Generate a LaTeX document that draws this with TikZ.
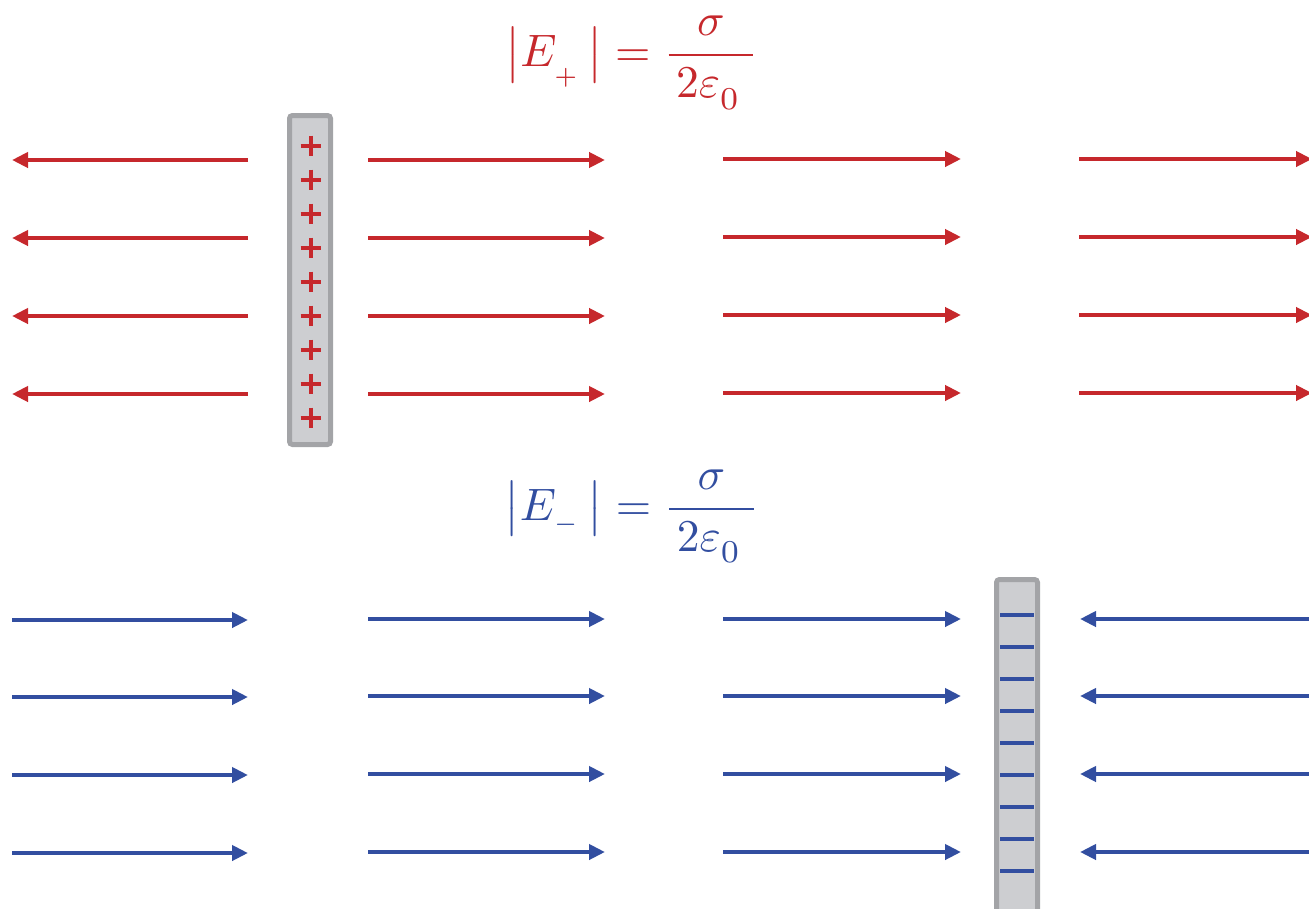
\documentclass[tikz,border=0pt]{standalone}
\usepackage{graphicx}
\usetikzlibrary{arrows.meta}
\definecolor{ered}{RGB}{198,40,44}
\definecolor{eblue}{RGB}{50,78,160}
\definecolor{plategray}{RGB}{205,206,209}
\definecolor{plateedge}{RGB}{163,164,167}
\newcommand{\fieldeq}[2]{$\displaystyle
  \bigl| E_{\raisebox{#2}{$\scriptscriptstyle #1$}}\,\bigr|
  = \frac{\sigma}{\,2\varepsilon_{\raisebox{-1pt}{$\scriptstyle 0$}}\;}$}
\begin{document}
\begin{tikzpicture}[x=1pt,y=-1pt,
  fieldline/.style={line width=4.5pt, -{Triangle[length=16pt,width=15pt]}},
  plate/.style={draw=plateedge, fill=plategray, line width=5pt, rounded corners=3pt, inner sep=0pt},
  pcharge/.style={line width=4pt},
  ncharge/.style={line width=3.5pt},
  formula/.style={scale=4.55, inner sep=0pt, transform shape, anchor=base}]
\useasboundingbox (0,0) rectangle (1309,908);
% positive plate
\node[plate, minimum width=41pt, minimum height=329pt] (pplate) at (310,280) {};
\foreach \k in {0,...,8} {
  \draw[pcharge, ered] (300.5,145.5+34*\k) -- (320.5,145.5+34*\k);
  \draw[pcharge, ered] (310.5,135.5+34*\k) -- (310.5,155.5+34*\k);
}
% negative plate
\begin{scope}
\clip (0,0) rectangle (1309,908);
\node[plate, minimum width=41pt, minimum height=360pt] (nplate) at (1017,759.5) {};
\end{scope}
\foreach \k in {0,...,8} {
  \draw[ncharge, eblue] (1000,615+32*\k) -- (1034,615+32*\k);
}
% formulas
\node[formula, text=ered] (eplus) at (632,66.5) {\fieldeq{+}{-2.2pt}};
\node[formula, text=eblue] (eminus) at (632,520) {\fieldeq{-}{-0.8pt}};
% red field lines
\foreach \y [count=\i] in {160,238,316,394} {
  \coordinate (ra\i) at (248,\y); \coordinate (rb\i) at (12,\y);
  \draw[fieldline, ered] (ra\i) -- (rb\i);
  \coordinate (rc\i) at (368,\y); \coordinate (rd\i) at (605,\y);
  \draw[fieldline, ered] (rc\i) -- (rd\i);
  \coordinate (re\i) at (723,\y-1); \coordinate (rf\i) at (961,\y-1);
  \draw[fieldline, ered] (re\i) -- (rf\i);
  \coordinate (rg\i) at (1079,\y-1); \coordinate (rh\i) at (1312,\y-1);
  \draw[fieldline, ered] (rg\i) -- (rh\i);
}
% blue field lines
\foreach \y [count=\i] in {620,697,775,853} {
  \coordinate (ba\i) at (12,\y); \coordinate (bb\i) at (248,\y);
  \draw[fieldline, eblue] (ba\i) -- (bb\i);
  \coordinate (bc\i) at (368,\y-1); \coordinate (bd\i) at (605,\y-1);
  \draw[fieldline, eblue] (bc\i) -- (bd\i);
  \coordinate (be\i) at (723,\y-1); \coordinate (bf\i) at (961,\y-1);
  \draw[fieldline, eblue] (be\i) -- (bf\i);
  \coordinate (bg\i) at (1312,\y-1); \coordinate (bh\i) at (1080,\y-1);
  \draw[fieldline, eblue] (bg\i) -- (bh\i);
}
\end{tikzpicture}
\end{document}
